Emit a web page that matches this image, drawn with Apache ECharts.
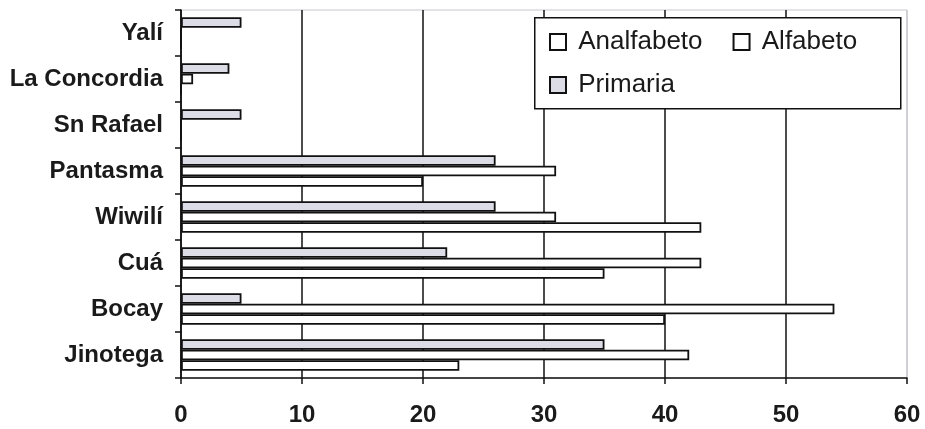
<!DOCTYPE html>
<html>
<head>
<meta charset="utf-8">
<script src="https://cdn.jsdelivr.net/npm/echarts@6/dist/echarts.min.js"></script>
<style>
html,body{margin:0;padding:0;background:#fff;}
#c{width:925px;height:429px;}
</style>
</head>
<body>
<div id="c"></div>
<script>
const categories = ['Jinotega', 'Bocay', 'Cuá', 'Wiwilí', 'Pantasma', 'Sn Rafael', 'La Concordia', 'Yalí'];
const analfabeto = [23, 40, 35, 43, 20, 0, 0, 0];
const alfabeto = [42, 54, 43, 31, 31, 0, 1, 0];
const primaria = [35, 5, 22, 26, 26, 5, 4, 5];
const xTicks = [0, 10, 20, 30, 40, 50, 60];

const FONT = '"Liberation Sans", Arial, sans-serif';
const chart = echarts.init(document.getElementById('c'), null, {renderer: 'canvas'});

const barBase = {
  type: 'bar',
  barGap: '0%',
  barCategoryGap: '31%',
  animation: false
};

const legendText = {fontFamily: FONT, fontSize: 26, color: '#1a1a1a', lineHeight: 26};

chart.setOption({
  animation: false,
  backgroundColor: '#fff',
  grid: {
    left: 181, right: 18, top: 10, bottom: 51,
    show: true, borderColor: '#c8c8d0', borderWidth: 1
  },
  xAxis: {
    type: 'value',
    min: xTicks[0], max: xTicks[xTicks.length - 1], interval: 10,
    axisLine: {show: true, lineStyle: {color: '#111', width: 1.5}},
    axisTick: {show: true, length: 6, lineStyle: {color: '#111', width: 1.5}},
    axisLabel: {
      color: '#1a1a1a', fontFamily: FONT, fontWeight: 'bold', fontSize: 24, margin: 25
    },
    splitLine: {show: true, lineStyle: {color: ['#111', '#111', '#111', '#111', '#111', '#111', '#c8c8d0'], width: 1.5}}
  },
  yAxis: {
    type: 'category',
    data: categories,
    axisLine: {show: true, lineStyle: {color: '#111', width: 1.5}},
    axisTick: {show: true, length: 6, lineStyle: {color: '#111', width: 1.5}},
    axisLabel: {
      color: '#1a1a1a', fontFamily: FONT, fontWeight: 'bold', fontSize: 24, margin: 18
    },
    splitLine: {show: false}
  },
  legend: [
    {
      data: ['Analfabeto', 'Alfabeto'],
      left: 549, top: 29, padding: 0, z: 10,
      itemWidth: 16, itemHeight: 16, itemGap: 30,
      icon: 'rect',
      formatter: n => ' ' + n,
      textStyle: legendText,
      selectedMode: false
    },
    {
      data: ['Primaria'],
      left: 549, top: 72, padding: 0, z: 10,
      itemWidth: 16, itemHeight: 16,
      icon: 'rect',
      formatter: n => ' ' + n,
      textStyle: legendText,
      selectedMode: false
    }
  ],
  graphic: [{
    type: 'rect',
    left: 534, top: 17,
    shape: {width: 366, height: 91},
    style: {fill: '#fff', stroke: '#111', lineWidth: 1.5},
    z: 8
  }],
  series: [
    Object.assign({}, barBase, {
      name: 'Primaria', data: primaria,
      itemStyle: {color: '#dcdce6', borderColor: '#111', borderWidth: 1.8}
    }),
    Object.assign({}, barBase, {
      name: 'Alfabeto', data: alfabeto,
      itemStyle: {color: '#ffffff', borderColor: '#111', borderWidth: 1.8}
    }),
    Object.assign({}, barBase, {
      name: 'Analfabeto', data: analfabeto,
      itemStyle: {color: '#ffffff', borderColor: '#111', borderWidth: 1.8}
    })
  ]
});
</script>
</body>
</html>
